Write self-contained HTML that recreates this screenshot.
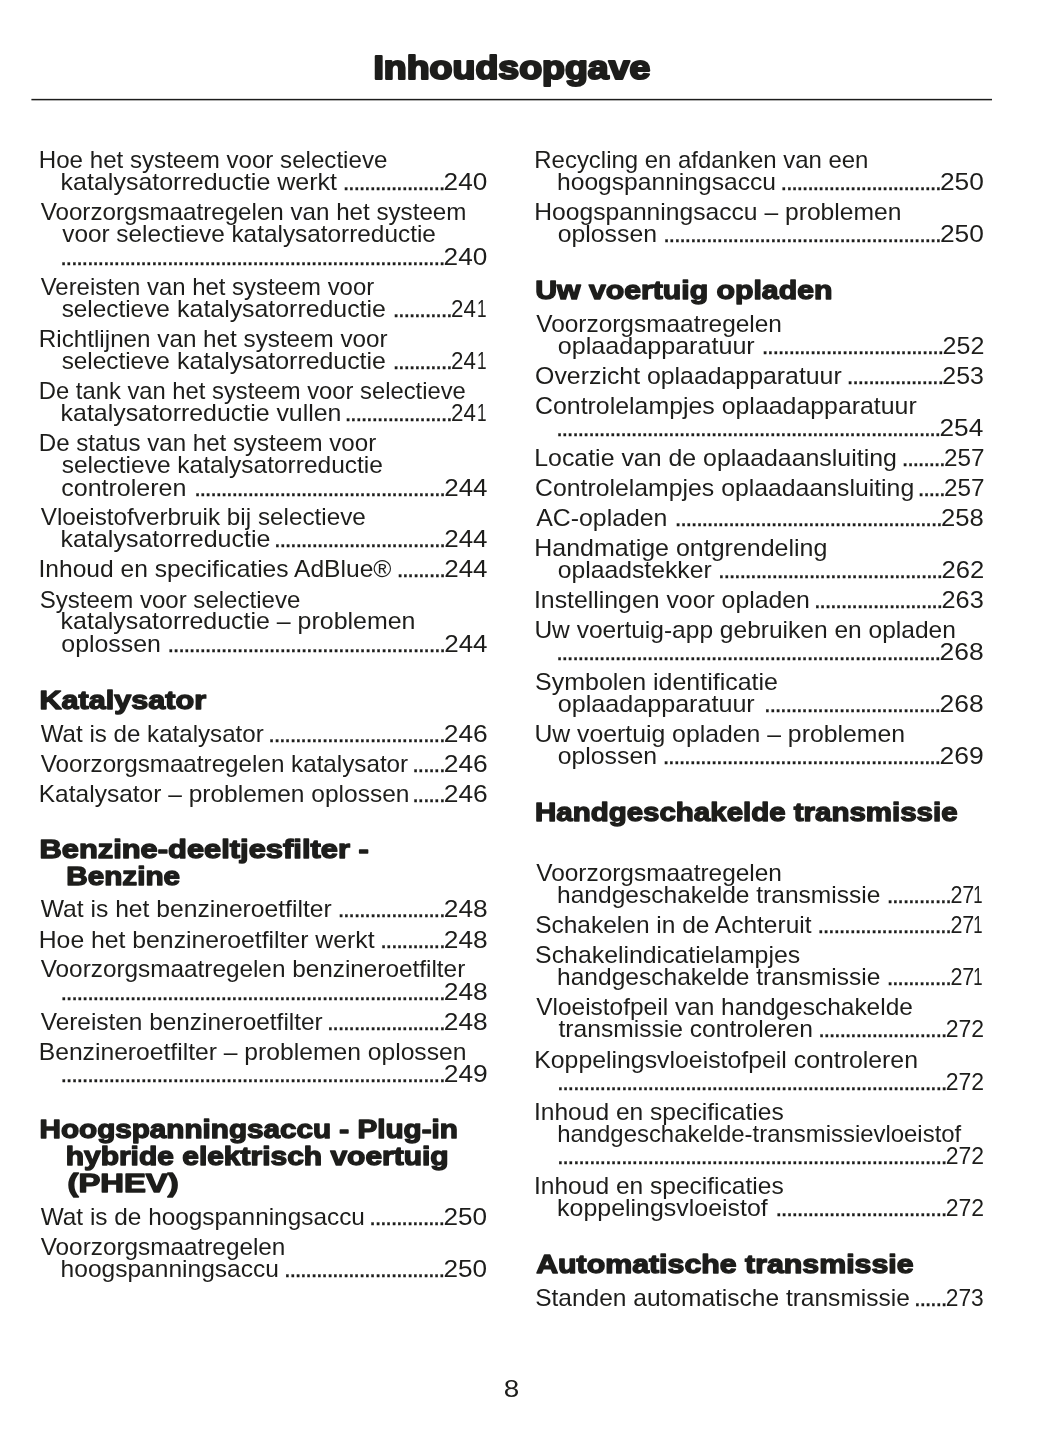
<!DOCTYPE html>
<html lang="nl"><head><meta charset="utf-8"><title>Inhoudsopgave</title>
<style>
html,body{margin:0;padding:0;background:#fff;}
body{width:1055px;height:1448px;overflow:hidden;}
svg{display:block;}
text{font-family:"Liberation Sans",sans-serif;fill:#1d1d1b;white-space:pre;}
.b{font-size:24.0px;}
.d{stroke:#1d1d1b;stroke-width:0.35px;}
.h{font-size:26.5px;font-weight:bold;stroke:#1d1d1b;stroke-width:1.4px;stroke-linejoin:round;}
.T{font-size:33.0px;font-weight:bold;stroke:#1d1d1b;stroke-width:2.2px;stroke-linejoin:round;}
</style></head><body>
<svg width="1055" height="1448" viewBox="0 0 1055 1448">

<text class="T" x="373.40" y="79.2" textLength="277.01" lengthAdjust="spacingAndGlyphs">Inhoudsopgave</text>
<rect x="31.4" y="98.85" width="960.6" height="1.5" fill="#1d1d1b"/>
<g>
<text class="b" x="38.79" y="167.7" textLength="348.58" lengthAdjust="spacingAndGlyphs">Hoe het systeem voor selectieve</text>
<text class="b" x="60.63" y="189.8" textLength="276.33" lengthAdjust="spacingAndGlyphs">katalysatorreductie werkt</text>
<text class="b d" x="342.78 348.11 353.44 358.77 364.10 369.43 374.76 380.09 385.42 390.75 396.08 401.41 406.74 412.07 417.40 422.73 428.06 433.39 438.72" y="189.8">...................</text>
<text class="b" x="443.59" y="189.8" textLength="43.72" lengthAdjust="spacingAndGlyphs">240</text>
<text class="b" x="40.72" y="219.9" textLength="425.70" lengthAdjust="spacingAndGlyphs">Voorzorgsmaatregelen van het systeem</text>
<text class="b" x="62.22" y="241.8" textLength="373.65" lengthAdjust="spacingAndGlyphs">voor selectieve katalysatorreductie</text>
<text class="b d" x="60.29 65.62 70.95 76.28 81.61 86.94 92.27 97.60 102.93 108.26 113.59 118.92 124.25 129.58 134.91 140.24 145.57 150.90 156.23 161.56 166.89 172.22 177.55 182.88 188.21 193.54 198.87 204.20 209.53 214.86 220.19 225.52 230.85 236.18 241.51 246.84 252.17 257.50 262.83 268.16 273.49 278.82 284.15 289.48 294.81 300.14 305.47 310.80 316.13 321.46 326.79 332.12 337.45 342.78 348.11 353.44 358.77 364.10 369.43 374.76 380.09 385.42 390.75 396.08 401.41 406.74 412.07 417.40 422.73 428.06 433.39 438.72" y="264.8">........................................................................</text>
<text class="b" x="443.59" y="264.8" textLength="43.72" lengthAdjust="spacingAndGlyphs">240</text>
<text class="b" x="40.72" y="294.9" textLength="333.43" lengthAdjust="spacingAndGlyphs">Vereisten van het systeem voor</text>
<text class="b" x="61.65" y="316.8" textLength="108.21" lengthAdjust="spacingAndGlyphs">selectieve</text>
<text class="b" x="177.14" y="316.8" textLength="208.73" lengthAdjust="spacingAndGlyphs">katalysatorreductie</text>
<text class="b d" x="392.72 398.05 403.38 408.71 414.04 419.37 424.70 430.03 435.36 440.69 446.02" y="316.8">...........</text>
<text class="b" x="451.08" y="316.8" textLength="24.87" lengthAdjust="spacingAndGlyphs">24</text>
<text class="b" x="477.08" y="316.8" textLength="9.57" lengthAdjust="spacingAndGlyphs">1</text>
<text class="b" x="38.78" y="346.8" textLength="348.89" lengthAdjust="spacingAndGlyphs">Richtlijnen van het systeem voor</text>
<text class="b" x="61.65" y="368.8" textLength="108.21" lengthAdjust="spacingAndGlyphs">selectieve</text>
<text class="b" x="177.14" y="368.8" textLength="208.73" lengthAdjust="spacingAndGlyphs">katalysatorreductie</text>
<text class="b d" x="392.72 398.05 403.38 408.71 414.04 419.37 424.70 430.03 435.36 440.69 446.02" y="368.8">...........</text>
<text class="b" x="451.08" y="368.8" textLength="24.87" lengthAdjust="spacingAndGlyphs">24</text>
<text class="b" x="477.08" y="368.8" textLength="9.57" lengthAdjust="spacingAndGlyphs">1</text>
<text class="b" x="38.82" y="398.8" textLength="427.00" lengthAdjust="spacingAndGlyphs">De tank van het systeem voor selectieve</text>
<text class="b" x="60.64" y="420.8" textLength="280.83" lengthAdjust="spacingAndGlyphs">katalysatorreductie vullen</text>
<text class="b d" x="344.75 350.08 355.41 360.74 366.07 371.40 376.73 382.06 387.39 392.72 398.05 403.38 408.71 414.04 419.37 424.70 430.03 435.36 440.69 446.02" y="420.8">....................</text>
<text class="b" x="451.08" y="420.8" textLength="24.87" lengthAdjust="spacingAndGlyphs">24</text>
<text class="b" x="477.08" y="420.8" textLength="9.57" lengthAdjust="spacingAndGlyphs">1</text>
<text class="b" x="38.79" y="451.3" textLength="337.40" lengthAdjust="spacingAndGlyphs">De status van het systeem voor</text>
<text class="b" x="61.65" y="472.8" textLength="321.24" lengthAdjust="spacingAndGlyphs">selectieve katalysatorreductie</text>
<text class="b" x="61.22" y="495.8" textLength="125.24" lengthAdjust="spacingAndGlyphs">controleren</text>
<text class="b d" x="194.14 199.47 204.80 210.13 215.46 220.79 226.12 231.45 236.78 242.11 247.44 252.77 258.10 263.43 268.76 274.09 279.42 284.75 290.08 295.41 300.74 306.07 311.40 316.73 322.06 327.39 332.72 338.05 343.38 348.71 354.04 359.37 364.70 370.03 375.36 380.69 386.02 391.35 396.68 402.01 407.34 412.67 418.00 423.33 428.66 433.99 439.32" y="495.8">...............................................</text>
<text class="b" x="444.20" y="495.8" textLength="43.34" lengthAdjust="spacingAndGlyphs">244</text>
<text class="b" x="40.72" y="525.3" textLength="325.09" lengthAdjust="spacingAndGlyphs">Vloeistofverbruik bij selectieve</text>
<text class="b" x="60.63" y="547.3" textLength="209.74" lengthAdjust="spacingAndGlyphs">katalysatorreductie</text>
<text class="b d" x="274.09 279.42 284.75 290.08 295.41 300.74 306.07 311.40 316.73 322.06 327.39 332.72 338.05 343.38 348.71 354.04 359.37 364.70 370.03 375.36 380.69 386.02 391.35 396.68 402.01 407.34 412.67 418.00 423.33 428.66 433.99 439.32" y="547.3">................................</text>
<text class="b" x="444.20" y="547.3" textLength="43.34" lengthAdjust="spacingAndGlyphs">244</text>
<text class="b" x="38.51" y="577.4" textLength="352.92" lengthAdjust="spacingAndGlyphs">Inhoud en specificaties AdBlue®</text>
<text class="b d" x="396.68 402.01 407.34 412.67 418.00 423.33 428.66 433.99 439.32" y="577.4">.........</text>
<text class="b" x="444.20" y="577.4" textLength="43.34" lengthAdjust="spacingAndGlyphs">244</text>
<text class="b" x="39.68" y="607.5" textLength="260.61" lengthAdjust="spacingAndGlyphs">Systeem voor selectieve</text>
<text class="b" x="60.64" y="629.3" textLength="354.82" lengthAdjust="spacingAndGlyphs">katalysatorreductie – problemen</text>
<text class="b" x="61.30" y="651.5" textLength="99.64" lengthAdjust="spacingAndGlyphs">oplossen</text>
<text class="b d" x="167.49 172.82 178.15 183.48 188.81 194.14 199.47 204.80 210.13 215.46 220.79 226.12 231.45 236.78 242.11 247.44 252.77 258.10 263.43 268.76 274.09 279.42 284.75 290.08 295.41 300.74 306.07 311.40 316.73 322.06 327.39 332.72 338.05 343.38 348.71 354.04 359.37 364.70 370.03 375.36 380.69 386.02 391.35 396.68 402.01 407.34 412.67 418.00 423.33 428.66 433.99 439.32" y="651.5">....................................................</text>
<text class="b" x="444.20" y="651.5" textLength="43.34" lengthAdjust="spacingAndGlyphs">244</text>
<text class="h" x="39.46" y="708.9" textLength="166.65" lengthAdjust="spacingAndGlyphs">Katalysator</text>
<text class="b" x="40.72" y="741.8" textLength="223.00" lengthAdjust="spacingAndGlyphs">Wat is de katalysator</text>
<text class="b d" x="268.36 273.69 279.02 284.35 289.68 295.01 300.34 305.67 311.00 316.33 321.66 326.99 332.32 337.65 342.98 348.31 353.64 358.97 364.30 369.63 374.96 380.29 385.62 390.95 396.28 401.61 406.94 412.27 417.60 422.93 428.26 433.59 438.92" y="741.8">.................................</text>
<text class="b" x="443.78" y="741.8" textLength="44.02" lengthAdjust="spacingAndGlyphs">246</text>
<text class="b" x="40.72" y="771.8" textLength="367.44" lengthAdjust="spacingAndGlyphs">Voorzorgsmaatregelen katalysator</text>
<text class="b d" x="412.27 417.60 422.93 428.26 433.59 438.92" y="771.8">......</text>
<text class="b" x="443.78" y="771.8" textLength="44.02" lengthAdjust="spacingAndGlyphs">246</text>
<text class="b" x="38.76" y="801.8" textLength="370.68" lengthAdjust="spacingAndGlyphs">Katalysator – problemen oplossen</text>
<text class="b d" x="412.27 417.60 422.93 428.26 433.59 438.92" y="801.8">......</text>
<text class="b" x="443.78" y="801.8" textLength="44.02" lengthAdjust="spacingAndGlyphs">246</text>
<text class="h" x="39.44" y="858.3" textLength="329.36" lengthAdjust="spacingAndGlyphs">Benzine-deeltjesfilter -</text>
<text class="h" x="66.22" y="885.3" textLength="113.89" lengthAdjust="spacingAndGlyphs">Benzine</text>
<text class="b" x="40.72" y="917.3" textLength="290.95" lengthAdjust="spacingAndGlyphs">Wat is het benzineroetfilter</text>
<text class="b d" x="337.65 342.98 348.31 353.64 358.97 364.30 369.63 374.96 380.29 385.62 390.95 396.28 401.61 406.94 412.27 417.60 422.93 428.26 433.59 438.92" y="917.3">....................</text>
<text class="b" x="443.78" y="917.3" textLength="43.92" lengthAdjust="spacingAndGlyphs">248</text>
<text class="b" x="38.74" y="947.5" textLength="335.79" lengthAdjust="spacingAndGlyphs">Hoe het benzineroetfilter werkt</text>
<text class="b d" x="380.29 385.62 390.95 396.28 401.61 406.94 412.27 417.60 422.93 428.26 433.59 438.92" y="947.5">............</text>
<text class="b" x="443.78" y="947.5" textLength="43.92" lengthAdjust="spacingAndGlyphs">248</text>
<text class="b" x="40.72" y="977.4" textLength="424.52" lengthAdjust="spacingAndGlyphs">Voorzorgsmaatregelen benzineroetfilter</text>
<text class="b d" x="60.49 65.82 71.15 76.48 81.81 87.14 92.47 97.80 103.13 108.46 113.79 119.12 124.45 129.78 135.11 140.44 145.77 151.10 156.43 161.76 167.09 172.42 177.75 183.08 188.41 193.74 199.07 204.40 209.73 215.06 220.39 225.72 231.05 236.38 241.71 247.04 252.37 257.70 263.03 268.36 273.69 279.02 284.35 289.68 295.01 300.34 305.67 311.00 316.33 321.66 326.99 332.32 337.65 342.98 348.31 353.64 358.97 364.30 369.63 374.96 380.29 385.62 390.95 396.28 401.61 406.94 412.27 417.60 422.93 428.26 433.59 438.92" y="999.9">........................................................................</text>
<text class="b" x="443.78" y="999.9" textLength="43.92" lengthAdjust="spacingAndGlyphs">248</text>
<text class="b" x="40.72" y="1029.6" textLength="281.97" lengthAdjust="spacingAndGlyphs">Vereisten benzineroetfilter</text>
<text class="b d" x="326.99 332.32 337.65 342.98 348.31 353.64 358.97 364.30 369.63 374.96 380.29 385.62 390.95 396.28 401.61 406.94 412.27 417.60 422.93 428.26 433.59 438.92" y="1029.6">......................</text>
<text class="b" x="443.78" y="1029.6" textLength="43.92" lengthAdjust="spacingAndGlyphs">248</text>
<text class="b" x="38.74" y="1059.8" textLength="427.71" lengthAdjust="spacingAndGlyphs">Benzineroetfilter – problemen oplossen</text>
<text class="b d" x="60.49 65.82 71.15 76.48 81.81 87.14 92.47 97.80 103.13 108.46 113.79 119.12 124.45 129.78 135.11 140.44 145.77 151.10 156.43 161.76 167.09 172.42 177.75 183.08 188.41 193.74 199.07 204.40 209.73 215.06 220.39 225.72 231.05 236.38 241.71 247.04 252.37 257.70 263.03 268.36 273.69 279.02 284.35 289.68 295.01 300.34 305.67 311.00 316.33 321.66 326.99 332.32 337.65 342.98 348.31 353.64 358.97 364.30 369.63 374.96 380.29 385.62 390.95 396.28 401.61 406.94 412.27 417.60 422.93 428.26 433.59 438.92" y="1081.8">........................................................................</text>
<text class="b" x="443.78" y="1081.8" textLength="44.01" lengthAdjust="spacingAndGlyphs">249</text>
<text class="h" x="39.52" y="1138.3" textLength="418.39" lengthAdjust="spacingAndGlyphs">Hoogspanningsaccu - Plug-in</text>
<text class="h" x="65.70" y="1165.3" textLength="382.94" lengthAdjust="spacingAndGlyphs">hybride elektrisch voertuig</text>
<text class="h" x="67.46" y="1192.3" textLength="111.26" lengthAdjust="spacingAndGlyphs">(PHEV)</text>
<text class="b" x="40.72" y="1224.8" textLength="324.15" lengthAdjust="spacingAndGlyphs">Wat is de hoogspanningsaccu</text>
<text class="b d" x="369.33 374.66 379.99 385.32 390.65 395.98 401.31 406.64 411.97 417.30 422.63 427.96 433.29 438.62" y="1224.8">..............</text>
<text class="b" x="443.49" y="1224.8" textLength="43.61" lengthAdjust="spacingAndGlyphs">250</text>
<text class="b" x="40.72" y="1254.8" textLength="244.66" lengthAdjust="spacingAndGlyphs">Voorzorgsmaatregelen</text>
<text class="b" x="60.58" y="1276.7" textLength="218.34" lengthAdjust="spacingAndGlyphs">hoogspanningsaccu</text>
<text class="b d" x="284.05 289.38 294.71 300.04 305.37 310.70 316.03 321.36 326.69 332.02 337.35 342.68 348.01 353.34 358.67 364.00 369.33 374.66 379.99 385.32 390.65 395.98 401.31 406.64 411.97 417.30 422.63 427.96 433.29 438.62" y="1276.7">..............................</text>
<text class="b" x="443.49" y="1276.7" textLength="43.61" lengthAdjust="spacingAndGlyphs">250</text>
</g>
<g>
<text class="b" x="534.30" y="168.3" textLength="334.11" lengthAdjust="spacingAndGlyphs">Recycling en afdanken van een</text>
<text class="b" x="557.08" y="189.8" textLength="218.84" lengthAdjust="spacingAndGlyphs">hoogspanningsaccu</text>
<text class="b d" x="780.55 785.88 791.21 796.54 801.87 807.20 812.53 817.86 823.19 828.52 833.85 839.18 844.51 849.84 855.17 860.50 865.83 871.16 876.49 881.82 887.15 892.48 897.81 903.14 908.47 913.80 919.13 924.46 929.79 935.12" y="189.8">..............................</text>
<text class="b" x="939.98" y="189.8" textLength="43.93" lengthAdjust="spacingAndGlyphs">250</text>
<text class="b" x="534.25" y="220.3" textLength="367.17" lengthAdjust="spacingAndGlyphs">Hoogspanningsaccu – problemen</text>
<text class="b" x="557.81" y="241.8" textLength="99.13" lengthAdjust="spacingAndGlyphs">oplossen</text>
<text class="b d" x="663.29 668.62 673.95 679.28 684.61 689.94 695.27 700.60 705.93 711.26 716.59 721.92 727.25 732.58 737.91 743.24 748.57 753.90 759.23 764.56 769.89 775.22 780.55 785.88 791.21 796.54 801.87 807.20 812.53 817.86 823.19 828.52 833.85 839.18 844.51 849.84 855.17 860.50 865.83 871.16 876.49 881.82 887.15 892.48 897.81 903.14 908.47 913.80 919.13 924.46 929.79 935.12" y="241.8">....................................................</text>
<text class="b" x="939.98" y="241.8" textLength="43.93" lengthAdjust="spacingAndGlyphs">250</text>
<text class="h" x="535.19" y="299.2" textLength="297.24" lengthAdjust="spacingAndGlyphs">Uw voertuig opladen</text>
<text class="b" x="536.22" y="332.1" textLength="245.66" lengthAdjust="spacingAndGlyphs">Voorzorgsmaatregelen</text>
<text class="b" x="557.80" y="353.6" textLength="196.92" lengthAdjust="spacingAndGlyphs">oplaadapparatuur</text>
<text class="b d" x="761.73 767.06 772.39 777.72 783.05 788.38 793.71 799.04 804.37 809.70 815.03 820.36 825.69 831.02 836.35 841.68 847.01 852.34 857.67 863.00 868.33 873.66 878.99 884.32 889.65 894.98 900.31 905.64 910.97 916.30 921.63 926.96 932.29 937.62" y="353.6">..................................</text>
<text class="b" x="942.55" y="353.6" textLength="41.76" lengthAdjust="spacingAndGlyphs">252</text>
<text class="b" x="535.14" y="383.8" textLength="306.59" lengthAdjust="spacingAndGlyphs">Overzicht oplaadapparatuur</text>
<text class="b d" x="846.81 852.14 857.47 862.80 868.13 873.46 878.79 884.12 889.45 894.78 900.11 905.44 910.77 916.10 921.43 926.76 932.09 937.42" y="383.8">..................</text>
<text class="b" x="942.36" y="383.8" textLength="41.48" lengthAdjust="spacingAndGlyphs">253</text>
<text class="b" x="535.06" y="413.8" textLength="381.66" lengthAdjust="spacingAndGlyphs">Controlelampjes oplaadapparatuur</text>
<text class="b d" x="556.19 561.52 566.85 572.18 577.51 582.84 588.17 593.50 598.83 604.16 609.49 614.82 620.15 625.48 630.81 636.14 641.47 646.80 652.13 657.46 662.79 668.12 673.45 678.78 684.11 689.44 694.77 700.10 705.43 710.76 716.09 721.42 726.75 732.08 737.41 742.74 748.07 753.40 758.73 764.06 769.39 774.72 780.05 785.38 790.71 796.04 801.37 806.70 812.03 817.36 822.69 828.02 833.35 838.68 844.01 849.34 854.67 860.00 865.33 870.66 875.99 881.32 886.65 891.98 897.31 902.64 907.97 913.30 918.63 923.96 929.29 934.62" y="435.8">........................................................................</text>
<text class="b" x="939.49" y="435.8" textLength="43.76" lengthAdjust="spacingAndGlyphs">254</text>
<text class="b" x="534.23" y="465.8" textLength="362.65" lengthAdjust="spacingAndGlyphs">Locatie van de oplaadaansluiting</text>
<text class="b d" x="901.81 907.14 912.47 917.80 923.13 928.46 933.79 939.12" y="465.8">........</text>
<text class="b" x="944.09" y="465.8" textLength="40.49" lengthAdjust="spacingAndGlyphs">257</text>
<text class="b" x="535.06" y="495.8" textLength="379.13" lengthAdjust="spacingAndGlyphs">Controlelampjes oplaadaansluiting</text>
<text class="b d" x="917.80 923.13 928.46 933.79 939.12" y="495.8">.....</text>
<text class="b" x="944.09" y="495.8" textLength="40.49" lengthAdjust="spacingAndGlyphs">257</text>
<text class="b" x="536.22" y="525.8" textLength="131.19" lengthAdjust="spacingAndGlyphs">AC-opladen</text>
<text class="b d" x="674.85 680.18 685.51 690.84 696.17 701.50 706.83 712.16 717.49 722.82 728.15 733.48 738.81 744.14 749.47 754.80 760.13 765.46 770.79 776.12 781.45 786.78 792.11 797.44 802.77 808.10 813.43 818.76 824.09 829.42 834.75 840.08 845.41 850.74 856.07 861.40 866.73 872.06 877.39 882.72 888.05 893.38 898.71 904.04 909.37 914.70 920.03 925.36 930.69 936.02" y="525.8">..................................................</text>
<text class="b" x="940.92" y="525.8" textLength="42.75" lengthAdjust="spacingAndGlyphs">258</text>
<text class="b" x="534.22" y="555.8" textLength="293.18" lengthAdjust="spacingAndGlyphs">Handmatige ontgrendeling</text>
<text class="b" x="557.81" y="577.8" textLength="153.89" lengthAdjust="spacingAndGlyphs">oplaadstekker</text>
<text class="b d" x="718.09 723.42 728.75 734.08 739.41 744.74 750.07 755.40 760.73 766.06 771.39 776.72 782.05 787.38 792.71 798.04 803.37 808.70 814.03 819.36 824.69 830.02 835.35 840.68 846.01 851.34 856.67 862.00 867.33 872.66 877.99 883.32 888.65 893.98 899.31 904.64 909.97 915.30 920.63 925.96 931.29 936.62" y="577.8">..........................................</text>
<text class="b" x="941.52" y="577.8" textLength="42.72" lengthAdjust="spacingAndGlyphs">262</text>
<text class="b" x="533.98" y="607.8" textLength="275.95" lengthAdjust="spacingAndGlyphs">Instellingen voor opladen</text>
<text class="b d" x="814.03 819.36 824.69 830.02 835.35 840.68 846.01 851.34 856.67 862.00 867.33 872.66 877.99 883.32 888.65 893.98 899.31 904.64 909.97 915.30 920.63 925.96 931.29 936.62" y="607.8">........................</text>
<text class="b" x="941.53" y="607.8" textLength="42.22" lengthAdjust="spacingAndGlyphs">263</text>
<text class="b" x="534.42" y="637.8" textLength="421.47" lengthAdjust="spacingAndGlyphs">Uw voertuig-app gebruiken en opladen</text>
<text class="b d" x="556.19 561.52 566.85 572.18 577.51 582.84 588.17 593.50 598.83 604.16 609.49 614.82 620.15 625.48 630.81 636.14 641.47 646.80 652.13 657.46 662.79 668.12 673.45 678.78 684.11 689.44 694.77 700.10 705.43 710.76 716.09 721.42 726.75 732.08 737.41 742.74 748.07 753.40 758.73 764.06 769.39 774.72 780.05 785.38 790.71 796.04 801.37 806.70 812.03 817.36 822.69 828.02 833.35 838.68 844.01 849.34 854.67 860.00 865.33 870.66 875.99 881.32 886.65 891.98 897.31 902.64 907.97 913.30 918.63 923.96 929.29 934.62" y="660.3">........................................................................</text>
<text class="b" x="939.48" y="660.3" textLength="44.13" lengthAdjust="spacingAndGlyphs">268</text>
<text class="b" x="535.14" y="690.3" textLength="242.77" lengthAdjust="spacingAndGlyphs">Symbolen identificatie</text>
<text class="b" x="557.80" y="712.3" textLength="196.92" lengthAdjust="spacingAndGlyphs">oplaadapparatuur</text>
<text class="b d" x="764.06 769.39 774.72 780.05 785.38 790.71 796.04 801.37 806.70 812.03 817.36 822.69 828.02 833.35 838.68 844.01 849.34 854.67 860.00 865.33 870.66 875.99 881.32 886.65 891.98 897.31 902.64 907.97 913.30 918.63 923.96 929.29 934.62" y="712.3">.................................</text>
<text class="b" x="939.48" y="712.3" textLength="44.13" lengthAdjust="spacingAndGlyphs">268</text>
<text class="b" x="534.40" y="742.3" textLength="370.56" lengthAdjust="spacingAndGlyphs">Uw voertuig opladen – problemen</text>
<text class="b" x="557.81" y="764.3" textLength="99.13" lengthAdjust="spacingAndGlyphs">oplossen</text>
<text class="b d" x="662.79 668.12 673.45 678.78 684.11 689.44 694.77 700.10 705.43 710.76 716.09 721.42 726.75 732.08 737.41 742.74 748.07 753.40 758.73 764.06 769.39 774.72 780.05 785.38 790.71 796.04 801.37 806.70 812.03 817.36 822.69 828.02 833.35 838.68 844.01 849.34 854.67 860.00 865.33 870.66 875.99 881.32 886.65 891.98 897.31 902.64 907.97 913.30 918.63 923.96 929.29 934.62" y="764.3">....................................................</text>
<text class="b" x="939.47" y="764.3" textLength="44.22" lengthAdjust="spacingAndGlyphs">269</text>
<text class="h" x="535.04" y="821.2" textLength="422.54" lengthAdjust="spacingAndGlyphs">Handgeschakelde transmissie</text>
<text class="b" x="536.22" y="881.3" textLength="245.66" lengthAdjust="spacingAndGlyphs">Voorzorgsmaatregelen</text>
<text class="b" x="557.08" y="902.8" textLength="323.30" lengthAdjust="spacingAndGlyphs">handgeschakelde transmissie</text>
<text class="b d" x="886.69 892.02 897.35 902.68 908.01 913.34 918.67 924.00 929.33 934.66 939.99 945.32" y="902.8">............</text>
<text class="b" x="950.42" y="902.8" textLength="23.93" lengthAdjust="spacingAndGlyphs">27</text>
<text class="b" x="973.22" y="902.8" textLength="9.31" lengthAdjust="spacingAndGlyphs">1</text>
<text class="b" x="535.16" y="932.8" textLength="276.35" lengthAdjust="spacingAndGlyphs">Schakelen in de Achteruit</text>
<text class="b d" x="817.40 822.73 828.06 833.39 838.72 844.05 849.38 854.71 860.04 865.37 870.70 876.03 881.36 886.69 892.02 897.35 902.68 908.01 913.34 918.67 924.00 929.33 934.66 939.99 945.32" y="932.8">.........................</text>
<text class="b" x="950.42" y="932.8" textLength="23.93" lengthAdjust="spacingAndGlyphs">27</text>
<text class="b" x="973.22" y="932.8" textLength="9.31" lengthAdjust="spacingAndGlyphs">1</text>
<text class="b" x="535.14" y="962.8" textLength="265.05" lengthAdjust="spacingAndGlyphs">Schakelindicatielampjes</text>
<text class="b" x="557.08" y="984.8" textLength="323.30" lengthAdjust="spacingAndGlyphs">handgeschakelde transmissie</text>
<text class="b d" x="886.69 892.02 897.35 902.68 908.01 913.34 918.67 924.00 929.33 934.66 939.99 945.32" y="984.8">............</text>
<text class="b" x="950.42" y="984.8" textLength="23.93" lengthAdjust="spacingAndGlyphs">27</text>
<text class="b" x="973.22" y="984.8" textLength="9.31" lengthAdjust="spacingAndGlyphs">1</text>
<text class="b" x="536.22" y="1015.3" textLength="376.64" lengthAdjust="spacingAndGlyphs">Vloeistofpeil van handgeschakelde</text>
<text class="b" x="558.47" y="1037.3" textLength="254.49" lengthAdjust="spacingAndGlyphs">transmissie controleren</text>
<text class="b d" x="818.13 823.46 828.79 834.12 839.45 844.78 850.11 855.44 860.77 866.10 871.43 876.76 882.09 887.42 892.75 898.08 903.41 908.74 914.07 919.40 924.73 930.06 935.39 940.72" y="1037.3">........................</text>
<text class="b" x="945.75" y="1037.3" textLength="38.36" lengthAdjust="spacingAndGlyphs">272</text>
<text class="b" x="534.23" y="1067.8" textLength="383.74" lengthAdjust="spacingAndGlyphs">Koppelingsvloeistofpeil controleren</text>
<text class="b d" x="556.96 562.29 567.62 572.95 578.28 583.61 588.94 594.27 599.60 604.93 610.26 615.59 620.92 626.25 631.58 636.91 642.24 647.57 652.90 658.23 663.56 668.89 674.22 679.55 684.88 690.21 695.54 700.87 706.20 711.53 716.86 722.19 727.52 732.85 738.18 743.51 748.84 754.17 759.50 764.83 770.16 775.49 780.82 786.15 791.48 796.81 802.14 807.47 812.80 818.13 823.46 828.79 834.12 839.45 844.78 850.11 855.44 860.77 866.10 871.43 876.76 882.09 887.42 892.75 898.08 903.41 908.74 914.07 919.40 924.73 930.06 935.39 940.72" y="1089.8">.........................................................................</text>
<text class="b" x="945.75" y="1089.8" textLength="38.36" lengthAdjust="spacingAndGlyphs">272</text>
<text class="b" x="534.01" y="1119.8" textLength="249.69" lengthAdjust="spacingAndGlyphs">Inhoud en specificaties</text>
<text class="b" x="557.13" y="1141.8" textLength="404.12" lengthAdjust="spacingAndGlyphs">handgeschakelde-transmissievloeistof</text>
<text class="b d" x="556.96 562.29 567.62 572.95 578.28 583.61 588.94 594.27 599.60 604.93 610.26 615.59 620.92 626.25 631.58 636.91 642.24 647.57 652.90 658.23 663.56 668.89 674.22 679.55 684.88 690.21 695.54 700.87 706.20 711.53 716.86 722.19 727.52 732.85 738.18 743.51 748.84 754.17 759.50 764.83 770.16 775.49 780.82 786.15 791.48 796.81 802.14 807.47 812.80 818.13 823.46 828.79 834.12 839.45 844.78 850.11 855.44 860.77 866.10 871.43 876.76 882.09 887.42 892.75 898.08 903.41 908.74 914.07 919.40 924.73 930.06 935.39 940.72" y="1163.8">.........................................................................</text>
<text class="b" x="945.75" y="1163.8" textLength="38.36" lengthAdjust="spacingAndGlyphs">272</text>
<text class="b" x="534.01" y="1193.7" textLength="249.69" lengthAdjust="spacingAndGlyphs">Inhoud en specificaties</text>
<text class="b" x="557.14" y="1216.3" textLength="210.57" lengthAdjust="spacingAndGlyphs">koppelingsvloeistof</text>
<text class="b d" x="775.49 780.82 786.15 791.48 796.81 802.14 807.47 812.80 818.13 823.46 828.79 834.12 839.45 844.78 850.11 855.44 860.77 866.10 871.43 876.76 882.09 887.42 892.75 898.08 903.41 908.74 914.07 919.40 924.73 930.06 935.39 940.72" y="1216.3">................................</text>
<text class="b" x="945.75" y="1216.3" textLength="38.36" lengthAdjust="spacingAndGlyphs">272</text>
<text class="h" x="536.19" y="1273.1" textLength="377.38" lengthAdjust="spacingAndGlyphs">Automatische transmissie</text>
<text class="b" x="535.16" y="1305.7" textLength="374.68" lengthAdjust="spacingAndGlyphs">Standen automatische transmissie</text>
<text class="b d" x="914.07 919.40 924.73 930.06 935.39 940.72" y="1305.7">......</text>
<text class="b" x="945.76" y="1305.7" textLength="37.99" lengthAdjust="spacingAndGlyphs">273</text>
</g>
<text class="b" x="503.79" y="1396.9" textLength="15.50" lengthAdjust="spacingAndGlyphs">8</text>
</svg></body></html>
